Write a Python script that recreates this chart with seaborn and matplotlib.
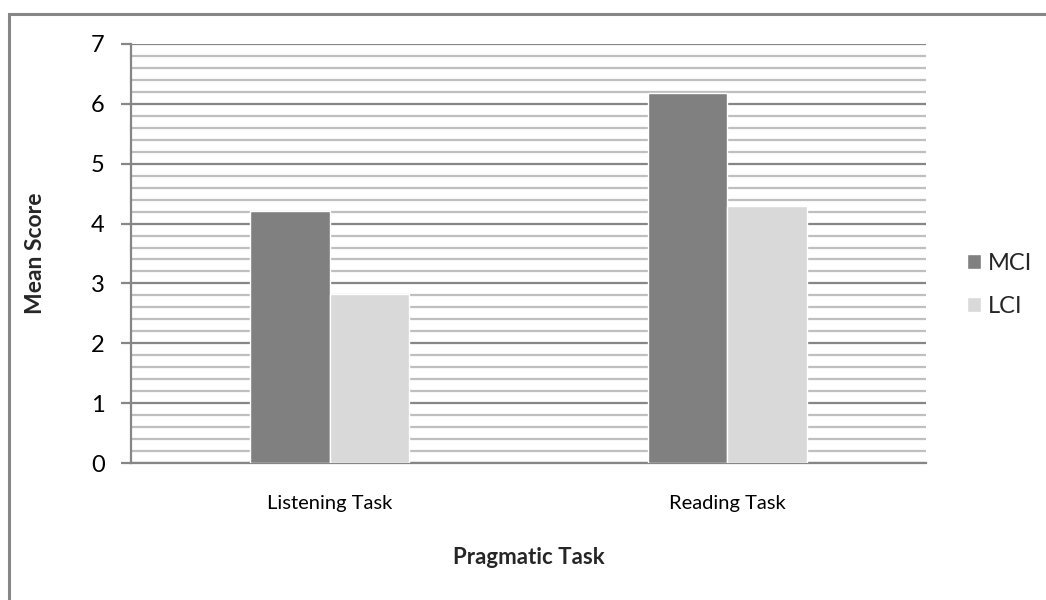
import matplotlib
matplotlib.use("Agg")
import matplotlib.pyplot as plt
from matplotlib.patches import Rectangle
from matplotlib.ticker import MultipleLocator
import seaborn as sns
import pandas as pd

tasks = ["Listening Task", "Reading Task"]
groups = ["MCI", "LCI"]
mci_scores = [4.21, 6.18]
lci_scores = [2.82, 4.29]
y_ticks = [0, 1, 2, 3, 4, 5, 6, 7]

df = pd.DataFrame({
    "task": tasks * 2,
    "group": [groups[0]] * len(tasks) + [groups[1]] * len(tasks),
    "score": mci_scores + lci_scores,
})

sns.set_theme(style="white")
plt.rcParams["font.family"] = ["Lato", "DejaVu Sans"]

W, H = 1046, 600
fig = plt.figure(figsize=(W / 100, H / 100), dpi=100)
ax = fig.add_axes([131 / W, 1 - 463 / H, (926 - 131) / W, (463 - 44) / H])

sns.barplot(data=df, x="task", y="score", hue="group", order=tasks,
            hue_order=groups, palette=["#808080", "#d9d9d9"], width=0.4,
            saturation=1, ax=ax, legend=True, zorder=3)

ax.set_xlim(-0.5, 1.5)
ax.set_ylim(0, 7)
ax.set_yticks(y_ticks)
ax.yaxis.set_minor_locator(MultipleLocator(0.2))
ax.grid(axis="y", which="minor", color="#bfbfbf", linewidth=1.6, zorder=0)
ax.grid(axis="y", which="major", color="#868686", linewidth=1.6, zorder=1)
ax.set_axisbelow(True)

for s in ["top", "right"]:
    ax.spines[s].set_visible(False)
for s in ["left", "bottom"]:
    ax.spines[s].set_color("#868686")
    ax.spines[s].set_linewidth(1.6)

ax.tick_params(axis="y", which="major", length=7, width=1.6, color="#868686",
               labelsize=17, pad=12, left=True)
ax.tick_params(axis="y", which="minor", length=0)
ax.tick_params(axis="x", length=0, labelsize=14.5, pad=23)
for lbl in ax.get_yticklabels() + ax.get_xticklabels():
    lbl.set_color("black")

ax.set_ylabel("Mean Score", fontsize=16.5, fontweight="bold", labelpad=32)
ax.set_xlabel("Pragmatic Task", fontsize=16, fontweight="bold", labelpad=25)

leg = ax.legend(loc="center left", bbox_to_anchor=(1.025, 0.425), frameon=False,
                fontsize=17, handlelength=0.6, handleheight=0.6,
                handletextpad=0.3, labelspacing=0.95)

# outer chart frame
fig.patches.append(Rectangle((9 / W, -0.05), 1.1, 1 - 14 / H + 0.05,
                             transform=fig.transFigure, fill=False,
                             edgecolor="#868686", linewidth=2.2))

fig.savefig("out.png", dpi=100)
